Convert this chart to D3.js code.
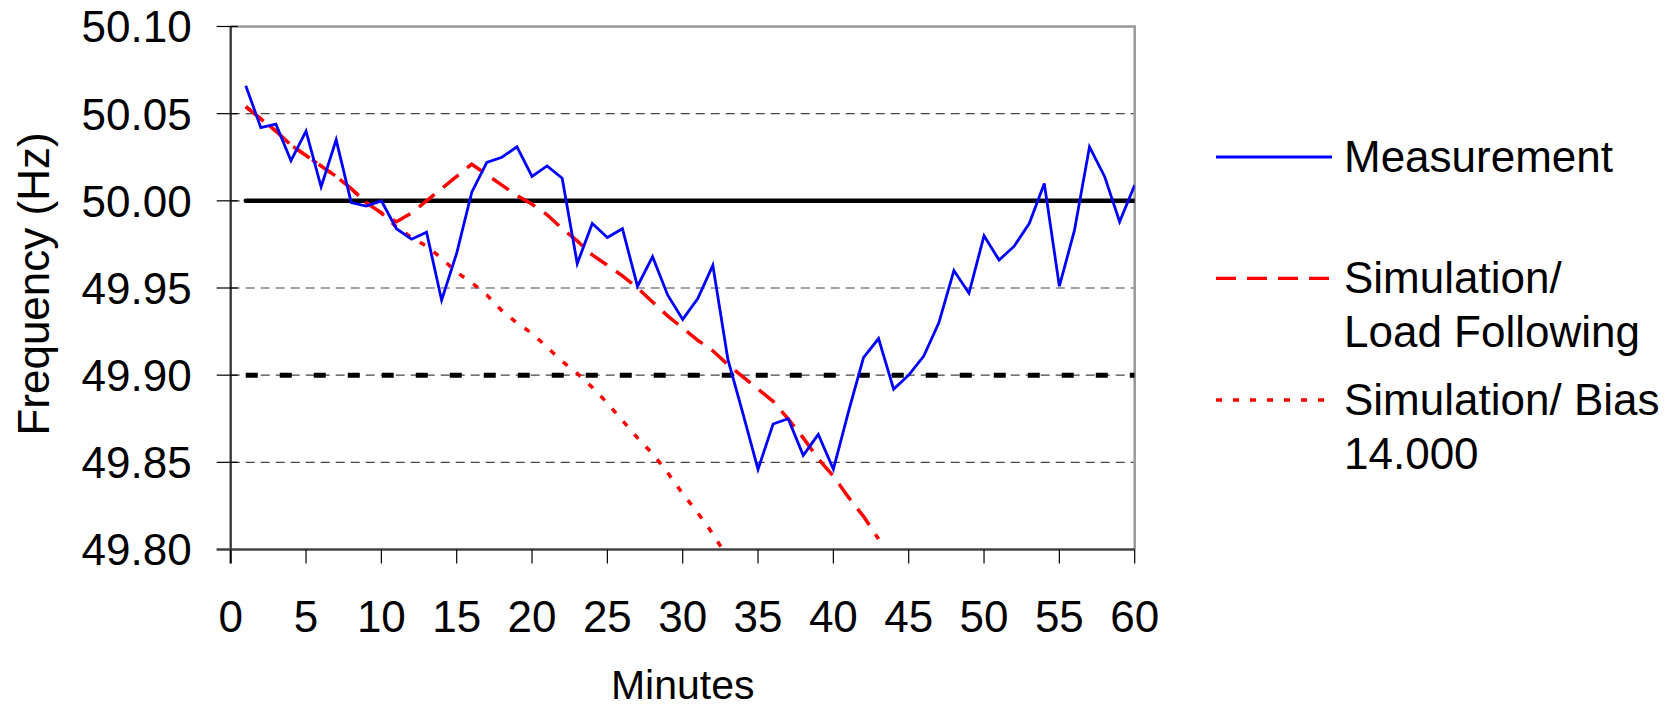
<!DOCTYPE html>
<html>
<head>
<meta charset="utf-8">
<script src="https://cdn.jsdelivr.net/npm/d3@7"></script>
<style>
  body { margin: 0; background: #fff; }
  text { font-family: Arial, "Liberation Sans", sans-serif; fill: #000; }
</style>
</head>
<body>
<script>
// minutes 1..60
const minutes = d3.range(1, 61)

const measurement = [
  50.066, 50.042, 50.044, 50.023, 50.040, 50.008, 50.035, 49.999, 49.997, 50.000,
  49.984, 49.978, 49.982, 49.943, 49.970, 50.005, 50.022, 50.025, 50.031, 50.014,
  50.020, 50.013, 49.964, 49.987, 49.979, 49.984, 49.951, 49.968, 49.946, 49.932,
  49.944, 49.963, 49.909, 49.878, 49.846, 49.872, 49.875, 49.854, 49.866, 49.846,
  49.879, 49.910, 49.921, 49.892, 49.900, 49.911, 49.930, 49.960, 49.947, 49.980,
  49.966, 49.974, 49.987, 50.010, 49.951, 49.983, 50.031, 50.014, 49.988, 50.009
]

const loadFollowing = [
  50.054, 50.047, 50.040, 50.032, 50.026, 50.020, 50.014, 50.007, 49.999, 49.993,
  49.988, 49.993, 50.000, 50.007, 50.014, 50.021, 50.015, 50.009, 50.003, 49.998,
  49.992, 49.984, 49.977, 49.969, 49.963, 49.957, 49.950, 49.942, 49.934, 49.927,
  49.920, 49.914, 49.906, 49.899, 49.892, 49.885, 49.875, 49.864, 49.852, 49.842,
  49.830, 49.819, 49.806
]

const bias14000 = [
  50.054, 50.047, 50.040, 50.032, 50.026, 50.020, 50.014, 50.007, 49.999, 49.993,
  49.985, 49.979, 49.974, 49.967, 49.959, 49.953, 49.946, 49.937, 49.930, 49.924,
  49.916, 49.908, 49.901, 49.893, 49.884, 49.874, 49.864, 49.855, 49.844, 49.832,
  49.821, 49.809, 49.795
]

const nominal = minutes.map(() => 50.00)
const limit = minutes.map(() => 49.90)

const yTicks = [49.80, 49.85, 49.90, 49.95, 50.00, 50.05, 50.10]
const xTicks = [0, 5, 10, 15, 20, 25, 30, 35, 40, 45, 50, 55, 60]

const legendItems = [
  { lines: ['Measurement'], color: '#0000ff', dash: null },
  { lines: ['Simulation/', 'Load Following'], color: '#ff0000', dash: '20,11' },
  { lines: ['Simulation/ Bias', '14.000'], color: '#ff0000', dash: '6,11' }
]

const width = 1669, height = 708
const plot = { left: 230.7, right: 1134.7, top: 26.5, bottom: 549.5 }

const x = d3.scaleLinear().domain([0, 60]).range([plot.left, plot.right])
const y = d3.scaleLinear().domain([49.80, 50.10]).range([plot.bottom, plot.top])

const svg = d3.select('body')
  .append('svg')
  .attr('width', width)
  .attr('height', height)

svg.append('defs').append('clipPath')
  .attr('id', 'plot-clip')
  .append('rect')
  .attr('x', plot.left)
  .attr('y', plot.top)
  .attr('width', plot.right - plot.left)
  .attr('height', plot.bottom - plot.top)

// gridlines
svg.append('g')
  .selectAll('line')
  .data(yTicks.filter(t => t > 49.8 && t < 50.1))
  .enter().append('line')
    .attr('x1', plot.left)
    .attr('x2', plot.right)
    .attr('y1', d => y(d))
    .attr('y2', d => y(d))
    .attr('stroke', '#444')
    .attr('stroke-width', 1.2)
    .attr('stroke-dasharray', '9,6')

// frame (top / right)
svg.append('path')
  .attr('d', `M${plot.left},${plot.top}H${plot.right}V${plot.bottom}`)
  .attr('fill', 'none')
  .attr('stroke', '#999')
  .attr('stroke-width', 2.5)

const line = data => d3.line()
  .x((d, i) => x(i + 1))
  .y(d => y(d))(data)

const series = svg.append('g').attr('clip-path', 'url(#plot-clip)')

series.append('path')
  .attr('d', line(limit))
  .attr('fill', 'none')
  .attr('stroke', '#000')
  .attr('stroke-width', 5)
  .attr('stroke-dasharray', '12,22')

series.append('path')
  .attr('d', line(nominal))
  .attr('fill', 'none')
  .attr('stroke', '#000')
  .attr('stroke-width', 4.5)
  .attr('stroke-linecap', 'round')

series.append('path')
  .attr('d', line(bias14000))
  .attr('fill', 'none')
  .attr('stroke', '#ff0000')
  .attr('stroke-width', 3.5)
  .attr('stroke-dasharray', '6,11')

series.append('path')
  .attr('d', line(loadFollowing))
  .attr('fill', 'none')
  .attr('stroke', '#ff0000')
  .attr('stroke-width', 3.5)
  .attr('stroke-dasharray', '20,11')

series.append('path')
  .attr('d', line(measurement))
  .attr('fill', 'none')
  .attr('stroke', '#0000ff')
  .attr('stroke-width', 2.8)
  .attr('stroke-linejoin', 'miter')

// y axis
const yAxis = svg.append('g').attr('transform', `translate(${plot.left},0)`)
yAxis.append('line')
  .attr('y1', plot.top)
  .attr('y2', plot.bottom + 14)
  .attr('stroke', '#333')
  .attr('stroke-width', 2.3)
yAxis.selectAll('.tick')
  .data(yTicks)
  .enter().append('line')
    .attr('x1', -14)
    .attr('x2', 7)
    .attr('y1', d => y(d))
    .attr('y2', d => y(d))
    .attr('stroke', '#000')
    .attr('stroke-width', 1.2)
yAxis.selectAll('text')
  .data(yTicks)
  .enter().append('text')
    .attr('x', -39)
    .attr('y', d => y(d))
    .attr('dy', '0.36em')
    .attr('text-anchor', 'end')
    .attr('font-size', 44)
    .text(d => d.toFixed(2))

// x axis
const xAxis = svg.append('g').attr('transform', `translate(0,${plot.bottom})`)
xAxis.append('line')
  .attr('x1', plot.left - 14)
  .attr('x2', plot.right)
  .attr('stroke', '#444')
  .attr('stroke-width', 2.3)
xAxis.selectAll('.tick')
  .data(xTicks)
  .enter().append('line')
    .attr('x1', d => x(d))
    .attr('x2', d => x(d))
    .attr('y1', 0)
    .attr('y2', 14)
    .attr('stroke', '#000')
    .attr('stroke-width', 1.2)
xAxis.selectAll('text')
  .data(xTicks)
  .enter().append('text')
    .attr('x', d => x(d))
    .attr('y', 82)
    .attr('text-anchor', 'middle')
    .attr('font-size', 44)
    .text(d => d)

svg.append('text')
  .attr('x', (plot.left + plot.right) / 2)
  .attr('y', 699)
  .attr('text-anchor', 'middle')
  .attr('font-size', 41)
  .text('Minutes')

svg.append('text')
  .attr('transform', 'translate(48.5,284) rotate(-90)')
  .attr('text-anchor', 'middle')
  .attr('font-size', 44)
  .text('Frequency (Hz)')

// legend
const legendY = [157, 278.3, 400]
const legend = svg.append('g')
legendItems.forEach((item, i) => {
  legend.append('line')
    .attr('x1', 1216)
    .attr('x2', i === 2 ? 1326 : 1332)
    .attr('y1', legendY[i])
    .attr('y2', legendY[i])
    .attr('stroke', item.color)
    .attr('stroke-width', i === 0 ? 2.8 : 3.3)
    .attr('stroke-dasharray', item.dash)
  const t = legend.append('text')
    .attr('x', 1344)
    .attr('y', legendY[i] + 14.5)
    .attr('font-size', 44)
  item.lines.forEach((s, j) => {
    t.append('tspan')
      .attr('x', 1344)
      .attr('dy', j === 0 ? 0 : 54)
      .text(s)
  })
})
</script>
</body>
</html>
